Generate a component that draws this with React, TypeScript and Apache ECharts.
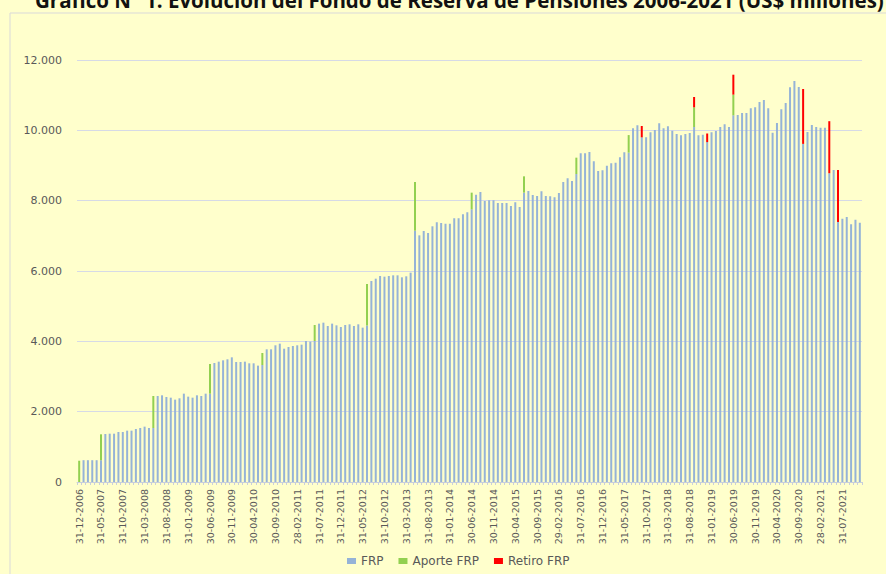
import React, { useEffect, useRef } from "react";
import * as echarts from "echarts";

// Month-end dates from 31-12-2006 to 30-11-2021 (180 months)
const startYear = 2006;
const startMonth = 11; // December (0-based)
const monthCount = 180;

const categories: string[] = Array.from({ length: monthCount }, (_, i) => {
  const y = startYear + Math.floor((startMonth + i) / 12);
  const m = (startMonth + i) % 12;
  const d = new Date(y, m + 1, 0).getDate();
  const pad = (n: number) => (n < 10 ? "0" + n : "" + n);
  return `${pad(d)}-${pad(m + 1)}-${y}`;
});

// FRP balance (US$ millones)
const frp: number[] = [
  0, 620, 620, 620, 620, 620, 1365, 1374, 1374, 1422, 1422, 1460, 1460, 1507, 1536, 1574, 1536, 1536,
  2446, 2465, 2417, 2398, 2342, 2380, 2512, 2427, 2398, 2465, 2446, 2512, 2512,
  3384, 3422, 3460, 3489, 3545, 3413, 3413, 3422, 3375, 3375, 3309, 3327,
  3773, 3773, 3887, 3934, 3791, 3839, 3868, 3887, 3905, 4010, 3991, 4010,
  4503, 4531, 4436, 4503, 4455, 4408, 4465, 4484, 4436, 4484, 4389, 4450,
  5716, 5782, 5858, 5839, 5858, 5877, 5877, 5820, 5849, 5953, 7147,
  7014, 7138, 7081, 7271, 7385, 7365, 7346, 7346, 7498, 7498, 7612, 7669, 7754,
  8171, 8247, 7991, 8010, 8010, 7934, 7934, 7934, 7849, 7953, 7820, 8228,
  8275, 8161, 8133, 8266, 8133, 8124, 8095, 8218, 8531, 8635, 8560, 8758,
  9346, 9346, 9384, 9119, 8844, 8863, 8996, 9062, 9081, 9233, 9375, 9365,
  10057, 10142, 9801, 9801, 9943, 10010, 10199, 10057, 10114, 9991, 9896, 9858, 9896, 9924, 10095,
  9858, 9877, 9665, 9943, 9981, 10095, 10171, 10095, 10427,
  10437, 10494, 10494, 10626, 10654, 10806, 10863, 10626, 9934, 10209, 10598, 10778, 11223, 11403, 11232, 9615,
  9953, 10152, 10095, 10076, 10076, 8780, 8872, 7394, 7488, 7536, 7328, 7460, 7375,
];

// Aporte FRP (contributions)
const aporteFechas: string[] = [
  "31-12-2006", "31-05-2007", "31-05-2008", "30-06-2009", "30-06-2010", "30-06-2011",
  "30-06-2012", "31-05-2013", "30-06-2014", "30-06-2015", "30-06-2016", "30-06-2017",
  "30-09-2018", "30-06-2019",
];
const aporteValores: number[] = [605, 736, 910, 844, 342, 455, 1180, 1384, 474, 464, 465, 500, 559, 588];

// Retiro FRP (withdrawals)
const retiroFechas: string[] = [
  "30-09-2017", "30-09-2018", "31-12-2018", "30-06-2019", "31-10-2020", "30-04-2021", "30-06-2021",
];
const retiroValores: number[] = [322, 294, 245, 567, 1560, 1480, 1478];

const yTicks = { min: 0, max: 12000, interval: 2000 };

const FONT = "DejaVu Sans";

export default function App() {
  const ref = useRef<HTMLDivElement>(null);

  useEffect(() => {
    document.body.style.margin = "0";
    document.body.style.background = "#FFFFCC";
    if (!ref.current) return;
    const chart = echarts.init(ref.current, null, { renderer: "svg" });

    const aporte = categories.map((c) => {
      const k = aporteFechas.indexOf(c);
      return k >= 0 ? aporteValores[k] : "-";
    });
    const retiro = categories.map((c) => {
      const k = retiroFechas.indexOf(c);
      return k >= 0 ? retiroValores[k] : "-";
    });

    const fmt = (v: number) => String(v).replace(/\B(?=(\d{3})+(?!\d))/g, ".");

    chart.setOption({
      animation: false,
      backgroundColor: "#FFFFCC",
      graphic: [
        {
          type: "rect",
          z: -10,
          shape: { x: 10, y: 13, width: 900, height: 600 },
          style: { fill: "#FFFFCC", stroke: "#D9D9D9", lineWidth: 1 },
        },
        {
          type: "text",
          z: 10,
          style: {
            x: 35,
            y: 10,
            text: "Gráfico N° 1: Evolución del Fondo de Reserva de Pensiones 2006-2021 (US$ millones)",
            font: 'bold 20.5px "Open Sans"',
            fill: "#111111",
            verticalAlign: "bottom",
            align: "left",
          },
        },
      ],
      legend: {
        data: ["FRP", "Aporte FRP", "Retiro FRP"],
        left: 347,
        top: 555,
        padding: 0,
        icon: "rect",
        itemWidth: 9,
        itemHeight: 6,
        itemGap: 15,
        textStyle: { fontFamily: FONT, fontSize: 12, color: "#595959" },
      },
      grid: { left: 77, right: 24, top: 60, bottom: 92, containLabel: false },
      xAxis: {
        type: "category",
        data: categories,
        boundaryGap: true,
        axisLine: { lineStyle: { color: "#C8CEDC", width: 1 } },
        axisTick: { show: true, interval: 0, length: 3, lineStyle: { color: "#C8CEDC" } },
        axisLabel: {
          interval: 4,
          rotate: 90,
          margin: 7,
          fontFamily: FONT,
          fontSize: 9.5,
          color: "#595959",
        },
      },
      yAxis: {
        type: "value",
        min: yTicks.min,
        max: yTicks.max,
        interval: yTicks.interval,
        axisLine: { show: false },
        axisTick: { show: false },
        axisLabel: {
          margin: 15,
          fontFamily: FONT,
          fontSize: 11,
          color: "#595959",
          formatter: (v: number) => fmt(v),
        },
        splitLine: { lineStyle: { color: "#D6DAE6", width: 1 } },
      },
      series: [
        {
          name: "FRP",
          type: "bar",
          stack: "total",
          data: frp,
          barWidth: 2,
          itemStyle: { color: "#95B3D7" },
        },
        {
          name: "Aporte FRP",
          type: "bar",
          stack: "total",
          data: aporte,
          barWidth: 2,
          itemStyle: { color: "#92D050" },
        },
        {
          name: "Retiro FRP",
          type: "bar",
          stack: "total",
          data: retiro,
          barWidth: 2,
          itemStyle: { color: "#FF0000" },
        },
      ],
    });

    return () => chart.dispose();
  }, []);

  return <div ref={ref} style={{ width: 886, height: 574 }} />;
}
